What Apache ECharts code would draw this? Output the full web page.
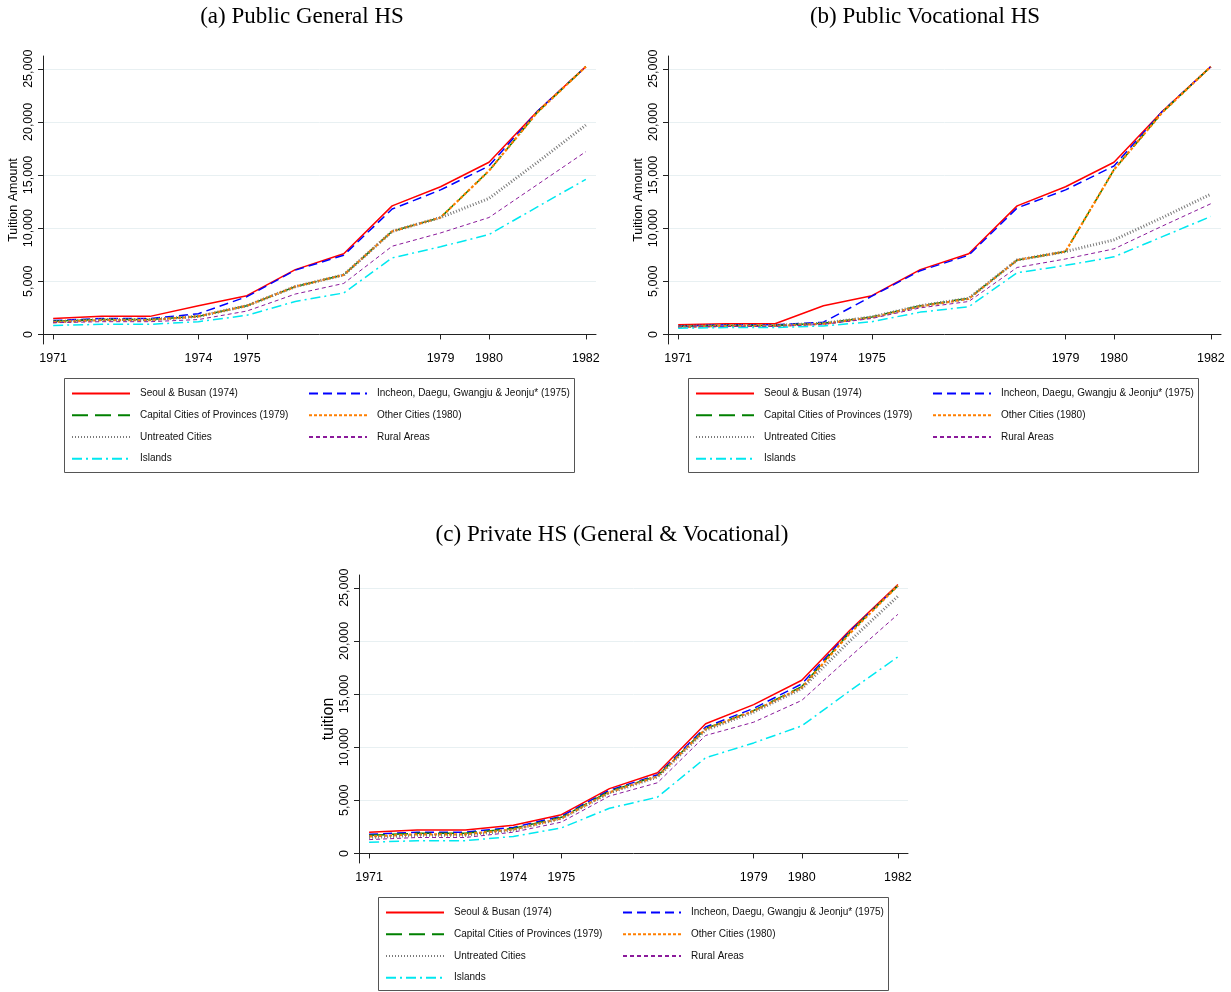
<!DOCTYPE html>
<html>
<head>
<meta charset="utf-8">
<script src="https://cdn.jsdelivr.net/npm/echarts@6/dist/echarts.min.js"></script>
<style>
html,body{margin:0;padding:0;background:#fff;}
#chart{width:1231px;height:992px;}
</style>
</head>
<body>
<div id="chart"></div>
<script>
// ---------- data ----------
const years = [1971,1972,1973,1974,1975,1976,1977,1978,1979,1980,1981,1982];
const xTickYears = [1971,1974,1975,1979,1980,1982];
const yTicks = [0,5000,10000,15000,20000,25000];

const seriesNames = [
  "Seoul & Busan (1974)",
  "Incheon, Daegu, Gwangju & Jeonju* (1975)",
  "Capital Cities of Provinces (1979)",
  "Other Cities (1980)",
  "Untreated Cities",
  "Rural Areas",
  "Islands"
];

const panelTitles = ["(a) Public General HS", "(b) Public Vocational HS", "(c) Private HS (General & Vocational)"];
const yAxisTitles = ["Tuition Amount", "Tuition Amount", "tuition"];

// (a) Public General HS
const seoulA     = [1500,1700,1700,2700,3650,6100,7600,12100,13900,16200,21000,25200];
const incheonA   = [1300,1500,1500,1950,3550,6050,7450,11800,13600,15850,21000,25200];
const capitalA   = [1250,1400,1400,1700,2700,4500,5600,9700,11000,15400,20900,25200];
const otherA     = [1150,1350,1350,1700,2700,4500,5600,9700,11000,15400,20900,25200];
const untreatedA = [1200,1400,1400,1700,2700,4500,5600,9700,11000,12800,16200,19700];
const ruralA     = [1100,1200,1200,1400,2200,3800,4800,8300,9550,11000,14100,17200];
const islandsA   = [850,950,950,1200,1800,3100,3900,7200,8250,9400,12000,14600];

// (b) Public Vocational HS
const seoulB     = [900,1000,1000,2700,3650,6100,7600,12100,13900,16200,21000,25200];
const incheonB   = [800,900,900,1150,3600,6000,7450,11900,13600,15850,21000,25200];
const capitalB   = [750,850,850,1050,1650,2700,3400,7000,7800,15500,20900,25200];
const otherB     = [700,800,800,1000,1600,2650,3350,7000,7800,15500,20900,25200];
const untreatedB = [750,850,850,1050,1650,2700,3400,7000,7800,8900,11000,13200];
const ruralB     = [700,750,750,950,1500,2500,3100,6300,7100,8050,10200,12300];
const islandsB   = [580,650,650,800,1200,2100,2600,5800,6500,7300,9200,11100];

// (c) Private HS
const seoulC     = [2000,2200,2200,2650,3650,6100,7600,12200,14000,16300,21000,25300];
const incheonC   = [1800,2000,2000,2450,3500,5950,7400,11900,13650,15950,20900,25200];
const capitalC   = [1700,1900,1900,2350,3400,5850,7300,11750,13450,15700,20800,25200];
const otherC     = [1600,1800,1800,2250,3300,5750,7250,11700,13400,15600,20700,25200];
const untreatedC = [1500,1700,1700,2200,3300,5700,7200,11600,13300,15500,20000,24200];
const ruralC     = [1300,1500,1500,2000,2950,5400,6650,11100,12350,14400,18500,22500];
const islandsC   = [1050,1200,1200,1600,2400,4250,5300,9000,10400,12000,15300,18500];

const panels = [
  [seoulA, incheonA, capitalA, otherA, untreatedA, ruralA, islandsA],
  [seoulB, incheonB, capitalB, otherB, untreatedB, ruralB, islandsB],
  [seoulC, incheonC, capitalC, otherC, untreatedC, ruralC, islandsC]
];

// ---------- styles ----------
const lineStyles = [
  {color:'#ff0000', width:1.5, type:'solid'},
  {color:'#0000ff', width:1.5, type:[9,5]},
  {color:'#008000', width:1.5, type:[16,7]},
  {color:'#ff7f00', width:2.2, type:[3,2]},
  {color:'#7a7a7a', width:3, type:[1,2]},
  {color:'#8b1a9b', width:1, type:[4,3]},
  {color:'#00e8f0', width:1.5, type:[10,4,2,4]}
];

// layout (pixels)
const grids = [
  {left:43, top:56, width:553, height:288},
  {left:668, top:56, width:553, height:288},
  {left:359, top:575, width:549, height:288}
];
const titlePos = [{x:302,y:5},{x:925,y:5},{x:612,y:523}];
const legendBoxes = [
  {x:64, y:378, w:510, h:94},
  {x:688, y:378, w:510, h:94},
  {x:378, y:897, w:510, h:93}
];

const FONT = '"Liberation Sans", Arial, Helvetica, sans-serif';

const option = {
  backgroundColor:'#fff',
  animation:false,
  title: panelTitles.map((t,i)=>({
    text:t, left:titlePos[i].x, top:titlePos[i].y, textAlign:'center', padding:0,
    textStyle:{fontFamily:'"Liberation Serif", "Times New Roman", serif', fontWeight:'normal', fontSize:23, color:'#000'}
  })),
  grid: grids.map(g=>Object.assign({containLabel:false}, g)),
  xAxis: grids.map((g,i)=>({
    type:'value', gridIndex:i, min:1970.79, max:1982.21,
    axisLine:{show:true, lineStyle:{color:'#222', width:1}},
    axisTick:{show:true, length:5, customValues:xTickYears, lineStyle:{color:'#222'}},
    axisLabel:{customValues:xTickYears, formatter:v=>String(v), fontFamily:FONT, fontSize:12.5, color:'#000', margin:8},
    splitLine:{show:false}
  })),
  yAxis: grids.map((g,i)=>({
    type:'value', gridIndex:i, min:-900, max:26200,
    name:yAxisTitles[i], nameLocation:'middle', nameRotate:90,
    nameGap: i===2 ? 22 : 23,
    nameTextStyle:{fontFamily:FONT, fontSize: i===2 ? 16 : 12.5, color:'#000'},
    axisLine:{show:true, lineStyle:{color:'#222', width:1}},
    axisTick:{show:true, length:5, customValues:yTicks, lineStyle:{color:'#222'}},
    axisLabel:{customValues:yTicks, rotate:90, fontFamily:FONT, fontSize:12.5, color:'#000', margin:8,
      formatter:v=>v.toLocaleString('en-US')},
    splitLine:{show:true, lineStyle:{color:'#e8f0f2', width:1}}
  })),
  legend: [],
  graphic: legendBoxes.map(b=>({
    type:'rect', shape:{x:b.x+0.5, y:b.y+0.5, width:b.w, height:b.h},
    style:{fill:'none', stroke:'#555', lineWidth:1}, silent:true, z:0
  })),
  series: []
};

// legends: two columns per panel
const col1 = [0,2,4,6], col2 = [1,3,5];
legendBoxes.forEach((b,i)=>{
  [[col1, b.x+7], [col2, b.x+244]].forEach(([idx, left])=>{
    option.legend.push({
      orient:'vertical', left:left, top:b.y+10, padding:0, itemGap:10.5,
      itemWidth:58, itemHeight:14, selectedMode:false,
      data: idx.map(k=>seriesNames[k]),
      itemStyle:{opacity:0},
      textStyle:{fontFamily:FONT, fontSize:10, color:'#111', padding:[0,0,0,5]}
    });
  });
});

panels.forEach((arrs,p)=>{
  arrs.forEach((arr,k)=>{
    option.series.push({
      type:'line', name:seriesNames[k], xAxisIndex:p, yAxisIndex:p,
      data: years.map((y,j)=>[y, arr[j]]),
      symbol:'none', silent:true, smooth:false,
      lineStyle: Object.assign({}, lineStyles[k]),
      itemStyle:{color:lineStyles[k].color},
      z: 2 + k*0.01
    });
  });
});

const chart = echarts.init(document.getElementById('chart'), null, {renderer:'canvas'});
chart.setOption(option);
</script>
</body>
</html>
